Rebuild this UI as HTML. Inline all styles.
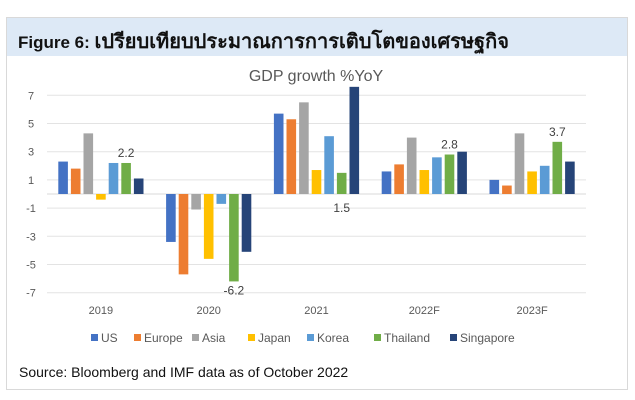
<!DOCTYPE html>
<html><head><meta charset="utf-8">
<style>
body{margin:0;background:#fff;width:635px;height:400px;overflow:hidden;font-family:"Liberation Sans",sans-serif;}
#frame{position:absolute;left:6px;top:17px;width:622px;height:373px;border:1px solid #d9d9d9;box-sizing:border-box;}
#band{position:absolute;left:0;top:0;width:100%;height:38px;background:#dde9f6;}
#title{position:absolute;left:11px;top:7px;font-size:17px;font-weight:bold;color:#111;font-family:"Liberation Sans","Noto Sans CJK SC",sans-serif;white-space:nowrap;}
#title .th{font-size:20px;}
#src{position:absolute;left:12px;top:346px;font-size:14px;color:#111;}
svg{position:absolute;left:0;top:0;}
</style></head><body>
<div id="frame">
<div id="band"><div id="title">Figure 6: <span class="th">เปรียบเทียบประมาณการการเติบโตของเศรษฐกิจ</span></div></div>
<div id="src">Source: Bloomberg and IMF data as of October 2022</div>
</div>
<svg id="chart" width="635" height="400"></svg>
<script>
const categories=["2019","2020","2021","2022F","2023F"];
const seriesNames=["US","Europe","Asia","Japan","Korea","Thailand","Singapore"];
const colors=["#4472c4","#ed7d31","#a5a5a5","#ffc000","#5b9bd5","#70ad47","#264478"];
const us=[2.3,-3.4,5.7,1.6,1.0];
const europe=[1.8,-5.7,5.3,2.1,0.6];
const asia=[4.3,-1.1,6.5,4.0,4.3];
const japan=[-0.4,-4.6,1.7,1.7,1.6];
const korea=[2.2,-0.7,4.1,2.6,2.0];
const thailand=[2.2,-6.2,1.5,2.8,3.7];
const singapore=[1.1,-4.1,7.6,3.0,2.3];
const series=[us,europe,asia,japan,korea,thailand,singapore];
const yTicks=[7,5,3,1,-1,-3,-5,-7];
const thaiLabels=["2.2","-6.2","1.5","2.8","3.7"];

const svg=document.getElementById('chart');
const NS='http://www.w3.org/2000/svg';
const X0=47,X1=586,Y7=95.3,PPU=14.1;
const y=v=>Y7+(7-v)*PPU;
const catW=(X1-X0)/categories.length;
const cx=i=>X0+catW*(i+0.5);
const pitch=12.6,bw=9.6;
function mk(tag,attrs){const e=document.createElementNS(NS,tag);for(const k in attrs)e.setAttribute(k,attrs[k]);svg.appendChild(e);return e;}

let t=mk('text',{x:316,y:81,'text-anchor':'middle','font-size':16,fill:'#595959','font-family':'Liberation Sans, sans-serif'});
t.textContent='GDP growth %YoY';



yTicks.forEach(v=>{
  const l=mk('line',{x1:X0,x2:X1,y1:y(v),y2:y(v),stroke:'#e3e3e3','stroke-width':1});
  
  
  const tx=mk('text',{x:31,y:y(v)+4,'text-anchor':'middle','font-size':11,fill:'#595959'});
  tx.textContent=v;
  
  
});
const ax=mk('line',{x1:X0,x2:X1,y1:y(0),y2:y(0),stroke:'#d9d9d9','stroke-width':1});



categories.forEach((c,i)=>{
  series.forEach((s,j)=>{
    const v=s[i];
    const x=cx(i)+(j-3)*pitch-bw/2;
    const r=mk('rect',{x:x,y:Math.min(y(v),y(0)),width:bw,height:Math.abs(y(v)-y(0)),fill:colors[j]});
    
    
  });
  const lx=mk('text',{x:cx(i),y:314,'text-anchor':'middle','font-size':11,fill:'#595959'});
  lx.textContent=c;
  
  
  const v=thailand[i];
  const bx=cx(i)+2*pitch;
  let ly=v>=0?y(v)-6:y(v)+13;
  if(i===2)ly=y(0)+18;
  const dl=mk('text',{x:bx,y:ly,'text-anchor':'middle','font-size':12,fill:'#404040'});
  dl.textContent=thaiLabels[i];
  
  
});
const legX=[91,134,192,248,307,374,450];
seriesNames.forEach((n,j)=>{
  const r=mk('rect',{x:legX[j],y:334,width:7,height:7,fill:colors[j]});
  
  
  const tx=mk('text',{x:legX[j]+10,y:342,'font-size':12,fill:'#595959'});
  tx.textContent=n;
  
  
});
</script>
</body></html>
